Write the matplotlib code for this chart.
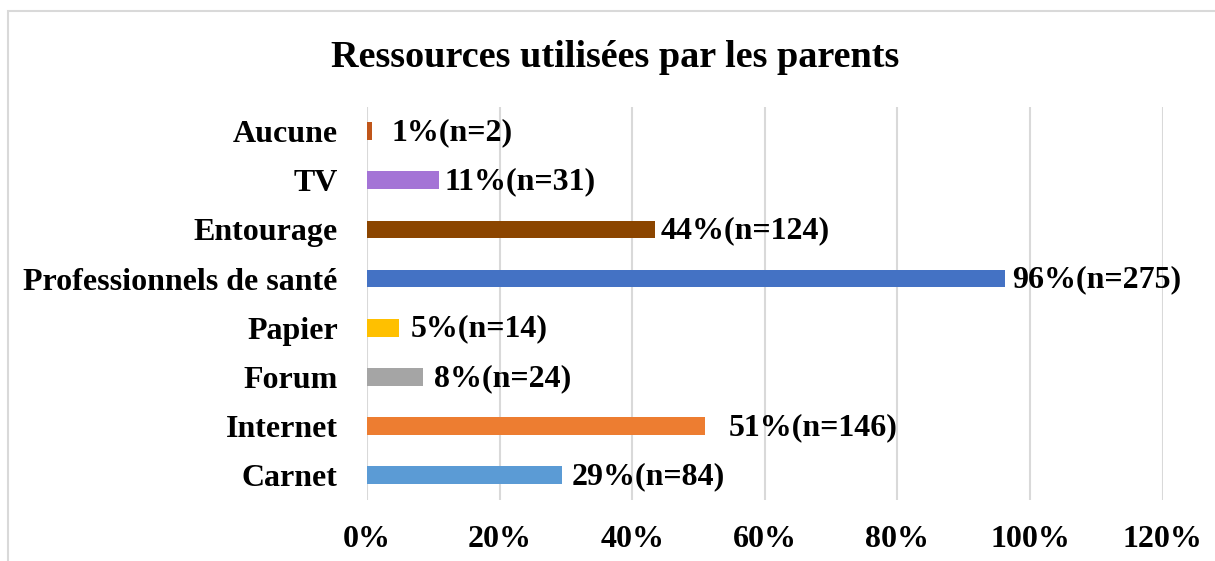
import numpy as np
import matplotlib.pyplot as plt
from matplotlib.patches import Rectangle

# data (bottom to top)
categories = ['Carnet', 'Internet', 'Forum', 'Papier', 'Professionnels de santé',
              'Entourage', 'TV', 'Aucune']
percent = [29.4, 51.0, 8.4, 4.9, 96.2, 43.4, 10.8, 0.7]
labels = ['29%(n=84)', '51%(n=146)', '8%(n=24)', '5%(n=14)', '96%(n=275)',
          '44%(n=124)', '11%(n=31)', '1%(n=2)']
colors = ['#5B9BD5', '#ED7D31', '#A5A5A5', '#FFC000', '#4472C4',
          '#8B4500', '#A474D6', '#C0561A']
# label offsets from bar end in points (manual placement in the original)
label_pad = [7, 17, 8, 8, 5, 4, 4, 14]

plt.rcParams['font.family'] = 'Liberation Serif'
plt.rcParams['font.weight'] = 'bold'

fig = plt.figure(figsize=(12.15, 5.61), dpi=100)
ax = fig.add_axes([0.302, 0.109, 0.655, 0.701])

y = np.arange(len(categories))
ax.barh(y, percent, height=0.36, color=colors, zorder=3)
for yi, p, lab, pad in zip(y, percent, labels, label_pad):
    ax.annotate(lab, (p, yi), xytext=(pad, -1), textcoords='offset points',
                va='center', ha='left', fontsize=23, fontweight='bold')

ax.set_xlim(0, 120)
ax.set_ylim(-0.5, len(categories) - 0.5)
ax.set_xticks(np.arange(0, 121, 20))
ax.set_xticklabels([f'{t}%' for t in range(0, 121, 20)])
ax.set_yticks(y)
ax.set_yticklabels(categories)
ax.tick_params(axis='both', length=0, labelsize=23)
ax.tick_params(axis='x', pad=18)
ax.tick_params(axis='y', pad=21)
ax.grid(axis='x', color='#D9D9D9', linewidth=1.5, zorder=0)
for s in ax.spines.values():
    s.set_visible(False)

fig.text(0.506, 0.897, 'Ressources utilisées par les parents', ha='center', va='center',
         fontsize=27.5, fontweight='bold')
fig.patches.append(Rectangle((8 / 1215, -0.1), 1.2, 1 - 11 / 561 + 0.1, transform=fig.transFigure,
                             fill=False, edgecolor='#D9D9D9', linewidth=1.5))

fig.savefig('out.png', dpi=100)
